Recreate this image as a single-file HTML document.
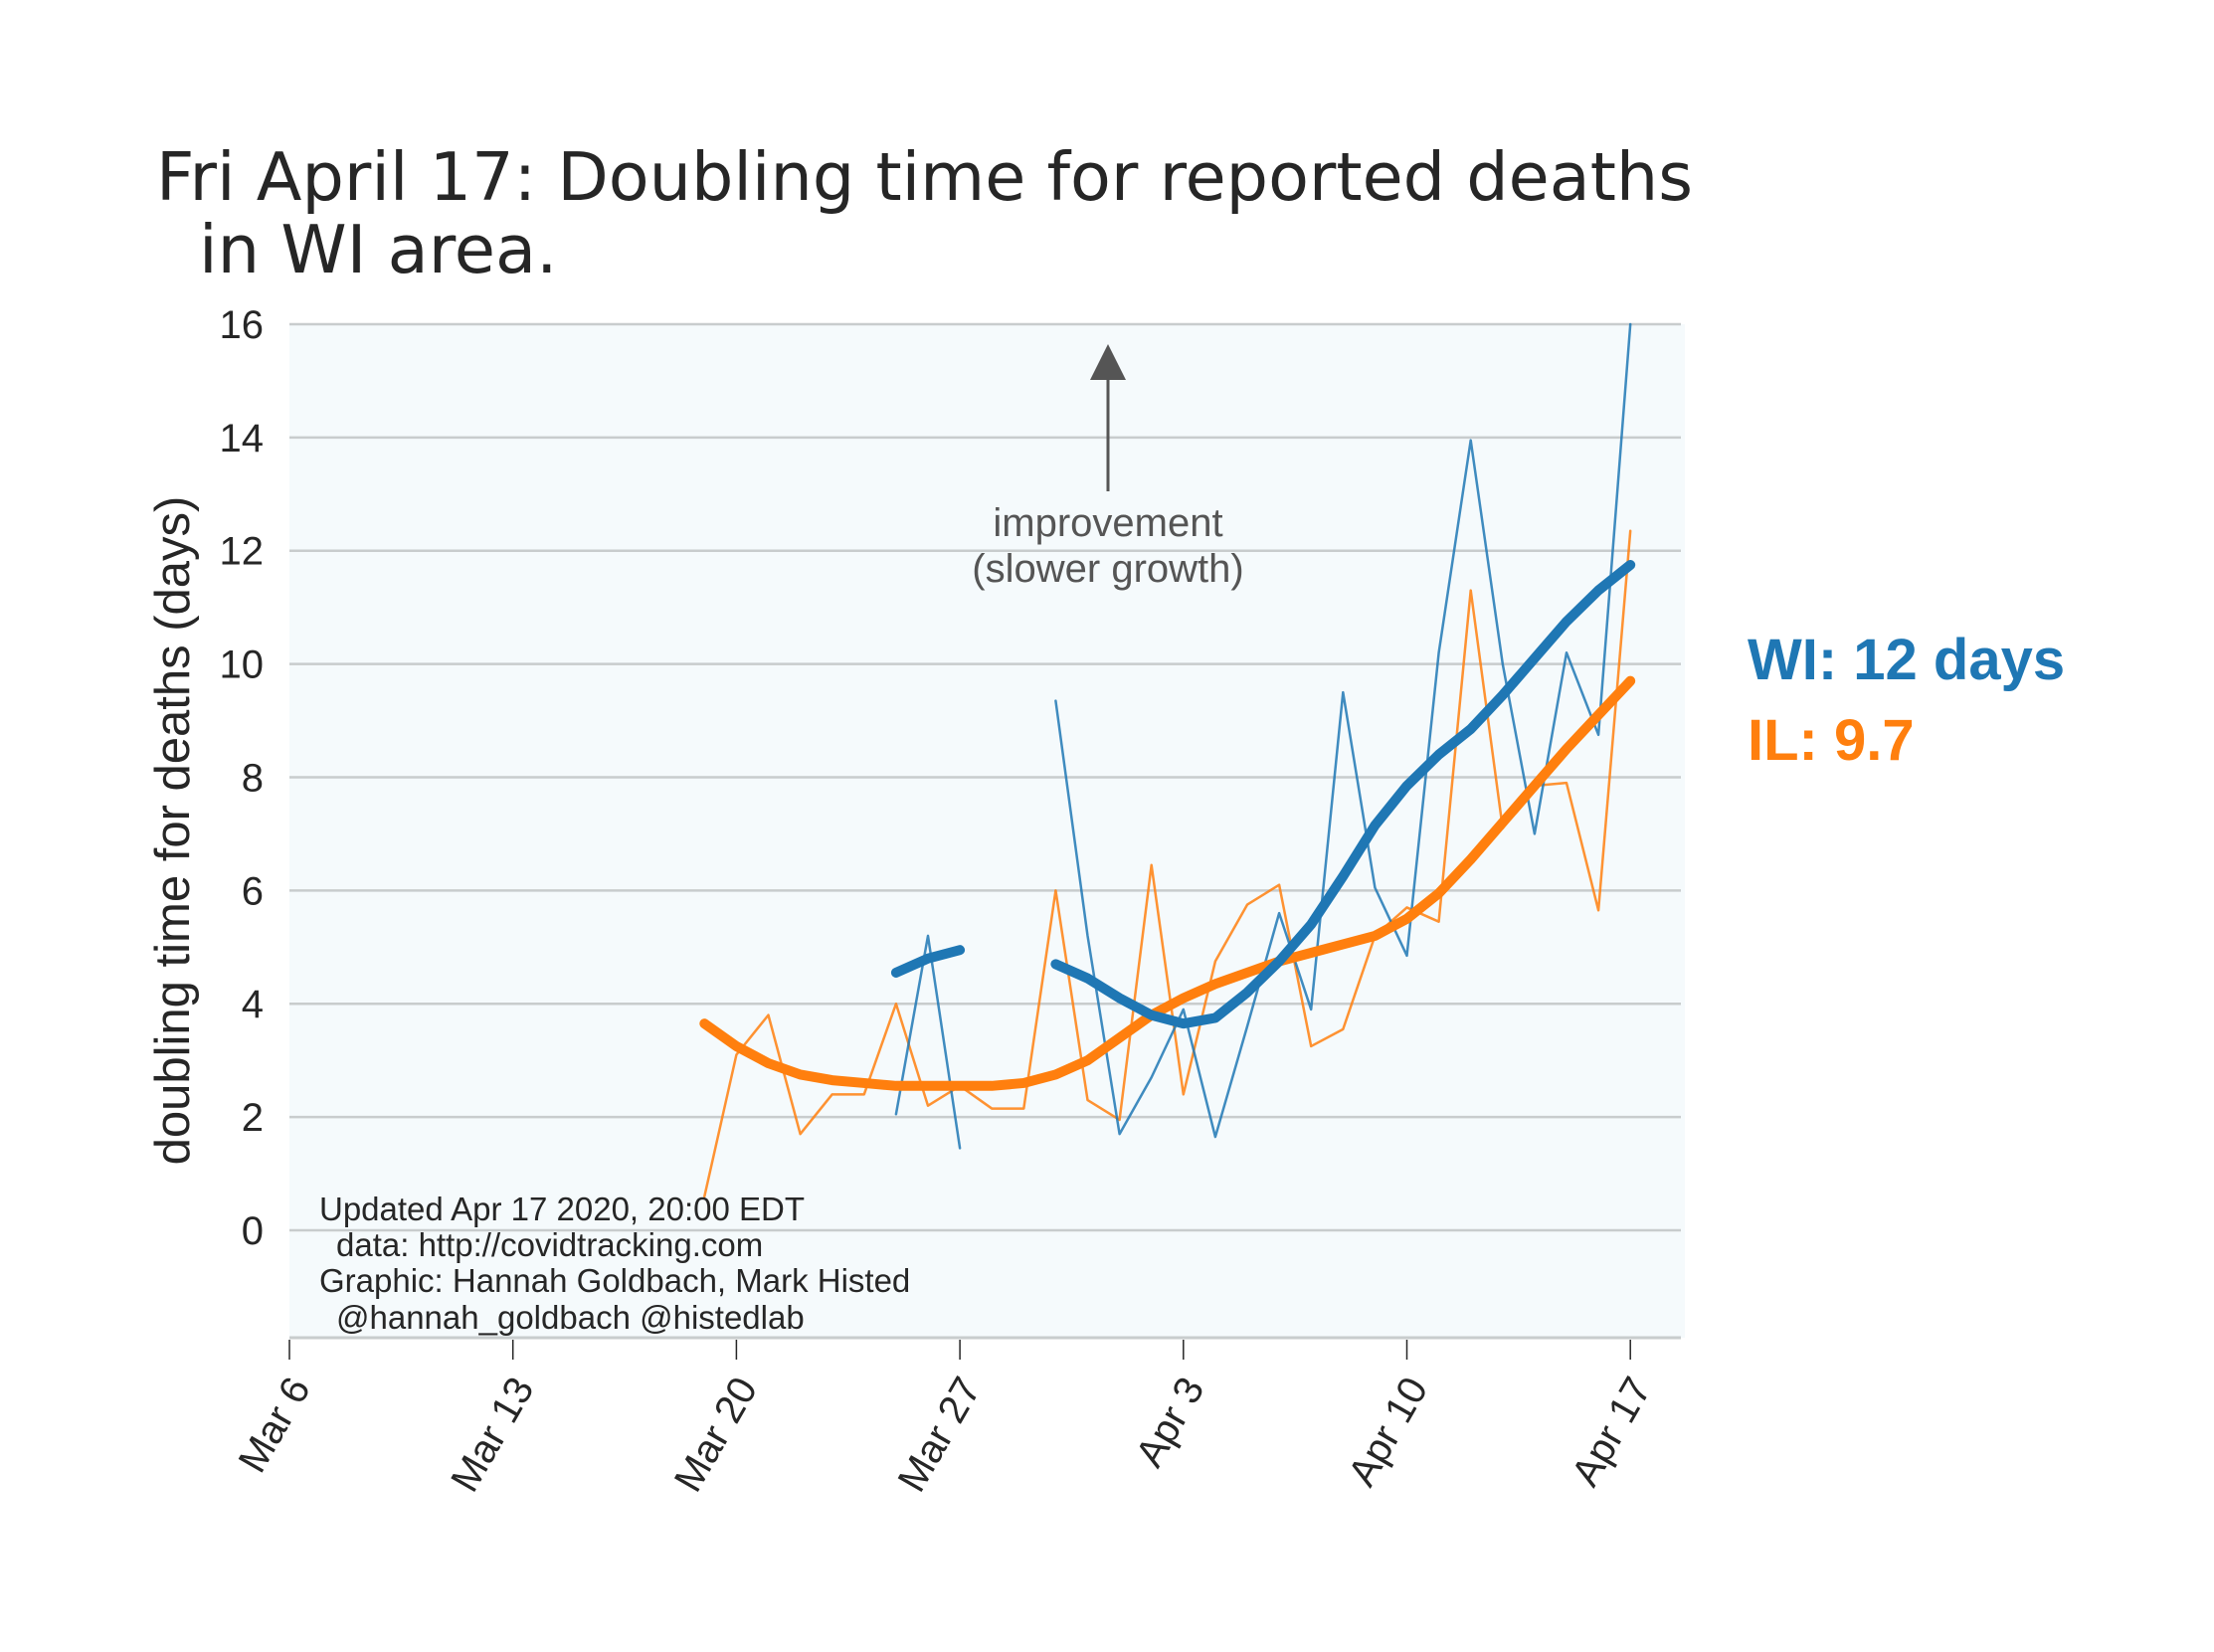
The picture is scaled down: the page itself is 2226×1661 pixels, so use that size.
<!DOCTYPE html>
<html><head><meta charset="utf-8"><style>
html,body{margin:0;padding:0;background:#fff;}
svg{display:block;}
text{font-family:"Liberation Sans",Arial,sans-serif;}
</style></head><body>
<svg id="chart" width="2226" height="1661" viewBox="0 0 2226 1661" xmlns="http://www.w3.org/2000/svg">
<rect width="2226" height="1661" fill="#ffffff"/>
<text x="157" y="201" font-size="67" fill="#262626" style="font-family:'DejaVu Sans',sans-serif" textLength="1545" lengthAdjust="spacingAndGlyphs">Fri April 17: Doubling time for reported deaths</text>
<text x="200" y="274" font-size="67" fill="#262626" style="font-family:'DejaVu Sans',sans-serif">in WI area.</text>
<rect x="291" y="326" width="1403" height="1019" fill="#f5fafc"/>
<g id="grid"></g>
<g id="series"></g>
<g id="axes"></g>
<text transform="translate(190,835) rotate(-90)" text-anchor="middle" font-size="49" fill="#262626">doubling time for deaths (days)</text>
<g>
<line x1="1114" y1="494" x2="1114" y2="380" stroke="#555" stroke-width="3"/>
<polygon points="1096,382 1132,382 1114,346" fill="#555"/>
<text x="1114" y="539" text-anchor="middle" font-size="40" fill="#555">improvement</text>
<text x="1114" y="585" text-anchor="middle" font-size="40" fill="#555">(slower growth)</text>
</g>
<g font-size="33" fill="#262626">
<text x="321" y="1227">Updated Apr 17 2020, 20:00 EDT</text>
<text x="338" y="1263">data: http://covidtracking.com</text>
<text x="321" y="1299">Graphic: Hannah Goldbach, Mark Histed</text>
<text x="338" y="1336">@hannah_goldbach @histedlab</text>
</g>
<text x="1757" y="683" font-size="58" font-weight="bold" fill="#1f77b4">WI: 12 days</text>
<text x="1757" y="764" font-size="58" font-weight="bold" fill="#ff7f0e">IL: 9.7</text>
</svg>
<script>
// day index 0 = Mar 6
const yTicks = [0,2,4,6,8,10,12,14,16];
const xTickDays = [0,7,14,21,28,35,42];
const xTickLabels = ["Mar 6","Mar 13","Mar 20","Mar 27","Apr 3","Apr 10","Apr 17"];
const ilStartDay = 13;
const ilRaw = [0.6,3.1,3.8,1.7,2.4,2.4,4.0,2.2,2.55,2.15,2.15,6.0,2.3,1.95,6.45,2.4,4.75,5.75,6.1,3.25,3.55,5.2,5.7,5.45,11.3,7.1,7.85,7.9,5.65,12.35];
const ilSmooth = [3.65,3.25,2.95,2.75,2.65,2.6,2.55,2.55,2.55,2.55,2.6,2.75,3.0,3.4,3.8,4.1,4.35,4.55,4.75,4.9,5.05,5.2,5.5,5.95,6.55,7.2,7.85,8.5,9.1,9.7];
const wiStartDay = 19;
const wiRaw = [2.05,5.2,1.45,null,null,9.35,5.2,1.7,2.7,3.9,1.65,3.6,5.6,3.9,9.5,6.05,4.85,10.2,13.95,10.0,7.0,10.2,8.75,16.0];
const wiSmooth = [4.55,4.8,4.95,null,null,4.7,4.45,4.1,3.8,3.65,3.75,4.2,4.75,5.4,6.25,7.15,7.85,8.4,8.85,9.45,10.1,10.75,11.3,11.75];

const NS="http://www.w3.org/2000/svg";
const X0=291, PX=32.1, Y0=1237, PY=56.94, XL=291, XR=1690, YB=1345;
const xs=d=>X0+d*PX, ys=v=>Y0-v*PY;
function mk(tag,attrs,parent){const e=document.createElementNS(NS,tag);for(const k in attrs)e.setAttribute(k,attrs[k]);parent.appendChild(e);return e;}
const grid=document.getElementById('grid'), series=document.getElementById('series'), axes=document.getElementById('axes');
yTicks.forEach(v=>{
  const l=mk('line',{x1:XL,x2:XR,y1:ys(v),y2:ys(v),stroke:'#c8cccd','stroke-width':2.5},grid);
  
  
  const t=mk('text',{x:265,y:ys(v)+14,'text-anchor':'end','font-size':40,fill:'#262626'},axes);
  t.textContent=v;
  
  
});
const sp=mk('line',{x1:XL,x2:XR,y1:YB,y2:YB,stroke:'#c8cccd','stroke-width':3},axes);


xTickDays.forEach((d,i)=>{
  const tk=mk('line',{x1:xs(d),x2:xs(d),y1:YB+2,y2:YB+22,stroke:'#262626','stroke-width':1.5},axes);
  
  
  const t=mk('text',{transform:`translate(${xs(d)+22},${YB+50}) rotate(-60)`,'text-anchor':'end','font-size':40,fill:'#262626'},axes);
  t.textContent=xTickLabels[i];
  
  
});
function segs(start,vals){const out=[];let cur=[];vals.forEach((v,i)=>{if(v==null){if(cur.length)out.push(cur);cur=[];}else cur.push([xs(start+i),ys(v)]);});if(cur.length)out.push(cur);return out;}
function draw(start,vals,color,w,name,op){
  segs(start,vals).forEach(s=>{
    const p=mk('polyline',{points:s.map(q=>q.join(',')).join(' '),fill:'none',stroke:color,'stroke-width':w,'stroke-linejoin':'round','stroke-linecap':'round',opacity:op},series);
    
    
  });
}
draw(ilStartDay,ilRaw,'#ff7f0e',2.5,'il-daily-line',0.85);
draw(wiStartDay,wiRaw,'#1f77b4',2.5,'wi-daily-line',0.85);
draw(ilStartDay,ilSmooth,'#ff7f0e',10,'il-smoothed-line',1);
draw(wiStartDay,wiSmooth,'#1f77b4',10,'wi-smoothed-line',1);
</script>
</body></html>
